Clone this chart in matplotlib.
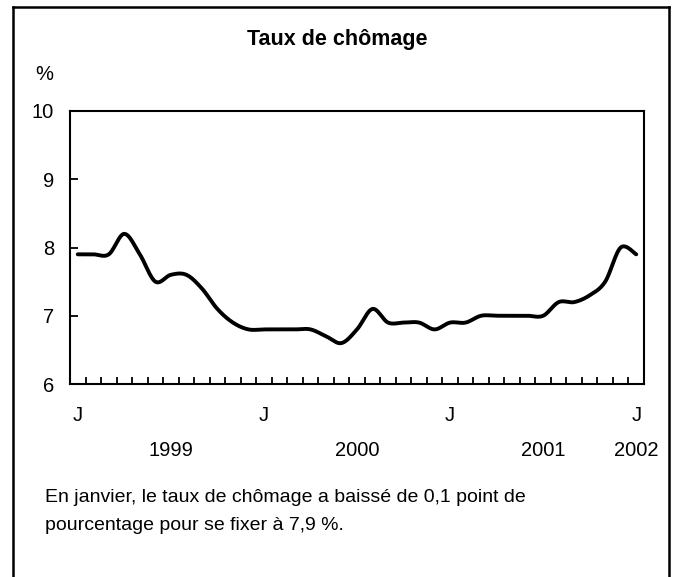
import numpy as np
import matplotlib
matplotlib.use("Agg")
import matplotlib.pyplot as plt
from matplotlib.lines import Line2D
from matplotlib.transforms import blended_transform_factory

# ---- data (monthly, Jan 1999 .. Jan 2002) ----
months = list(range(37))
rate = [7.9, 7.9, 7.9, 8.2, 7.9, 7.5, 7.6, 7.6, 7.4, 7.1, 6.9, 6.8,
        6.8, 6.8, 6.8, 6.8, 6.7, 6.6, 6.8, 7.1, 6.9, 6.9, 6.9, 6.8,
        6.9, 6.9, 7.0, 7.0, 7.0, 7.0, 7.0, 7.2, 7.2, 7.3, 7.5, 8.0,
        7.9]
month_labels = ['J', 'J', 'J', 'J']
month_label_pos = [0, 12, 24, 36]
year_labels = ['1999', '2000', '2001', '2002']
year_label_pos = [6, 18, 30, 36]
y_ticks = [6, 7, 8, 9, 10]
title = "Taux de chômage"
unit = "%"
note = ("En janvier, le taux de chômage a baissé de 0,1 point de\n"
        "pourcentage pour se fixer à 7,9 %.")

plt.rcParams['font.family'] = ['Liberation Sans', 'DejaVu Sans']

W, H = 673, 577
fig = plt.figure(figsize=(W / 100, H / 100), dpi=100)


def fx(px):
    return px / W


def fy(py):
    return 1 - py / H


def smooth(x, y, n=24):
    """Excel-style smoothed line (Bezier through the points)."""
    P = np.column_stack([np.asarray(x, float), np.asarray(y, float)])
    Pe = np.vstack([P[0], P, P[-1]])
    t = np.linspace(0, 1, n, endpoint=False)[:, None]
    out = []
    for i in range(len(P) - 1):
        p0, p1, p2, p3 = Pe[i], Pe[i + 1], Pe[i + 2], Pe[i + 3]
        c1 = p1 + (p2 - p0) / 6
        c2 = p2 - (p3 - p1) / 6
        out.append((1 - t) ** 3 * p1 + 3 * (1 - t) ** 2 * t * c1
                   + 3 * (1 - t) * t ** 2 * c2 + t ** 3 * p2)
    out.append(P[-1][None, :])
    return np.vstack(out)


ax = fig.add_axes([fx(70), fy(384), (644 - 70) / W, (384 - 111) / H])
curve = smooth(months, rate)
ax.plot(curve[:, 0], curve[:, 1], color='black', lw=2.8,
        solid_capstyle='round', solid_joinstyle='round')

ax.set_xlim(-0.5, 36.5)
ax.set_ylim(6, 10)
ax.set_yticks(y_ticks)
ax.set_yticklabels([str(v) for v in y_ticks])
ax.set_xticks(month_label_pos)
ax.set_xticklabels(month_labels)
ax.set_xticks(np.arange(0.5, 36.5, 1.0), minor=True)

ax.tick_params(axis='y', direction='in', length=6, width=1.3, pad=11.5,
               labelsize=14.5, colors='black')
ax.tick_params(axis='x', which='major', length=0, pad=16, labelsize=14.5)
ax.tick_params(axis='x', which='minor', direction='in', length=5, width=1.3)
for s in ax.spines.values():
    s.set_linewidth(1.5)
    s.set_color('black')

trans = blended_transform_factory(ax.transData, fig.transFigure)
for lab, pos in zip(year_labels, year_label_pos):
    ax.text(pos, fy(450), lab, transform=trans, ha='center', va='center',
            fontsize=14.5)

fig.text(fx(337), fy(40), title, ha='center', va='center', fontsize=15.5,
         fontweight='bold')
fig.text(fx(44), fy(75), unit, ha='center', va='center', fontsize=14.5)
fig.text(fx(45), fy(497), note.split('\n')[0], ha='left', va='center',
         fontsize=14)
fig.text(fx(45), fy(525), note.split('\n')[1], ha='left', va='center',
         fontsize=14)

# outer frame (open at bottom)
for xs, ys in [([13, 13], [577, 7]), ([13, 669], [7, 7]), ([669, 669], [7, 577])]:
    fig.add_artist(Line2D([fx(v) for v in xs], [fy(v) for v in ys],
                          transform=fig.transFigure, color='black', lw=1.8))

fig.savefig('out.png', dpi=100)
